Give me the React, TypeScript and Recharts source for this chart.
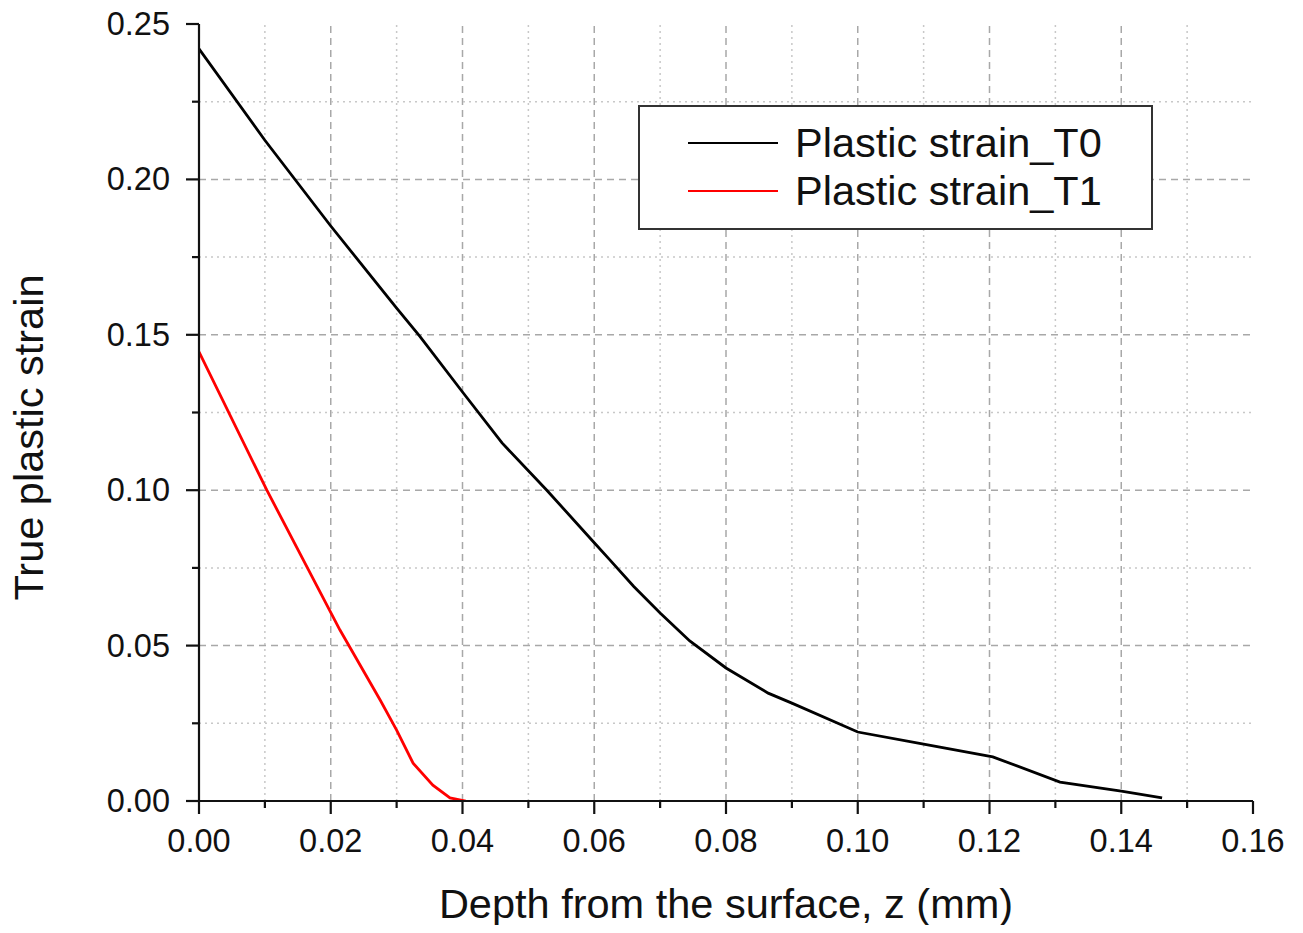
import { CartesianGrid, Label, Legend, Line, LineChart, ReferenceLine, XAxis, YAxis } from "recharts";

const FONT = '"Liberation Sans", Arial, sans-serif';

// Plastic strain_T0 (black)
const t0Depth = [0, 0.01, 0.02, 0.03, 0.0335, 0.04, 0.046, 0.0528, 0.06, 0.0624, 0.066, 0.07, 0.0745, 0.08, 0.0864, 0.09, 0.1, 0.11, 0.1205, 0.1307, 0.14, 0.1462];
const t0Strain = [0.242, 0.2126, 0.185, 0.1586, 0.1496, 0.1316, 0.1152, 0.1, 0.0831, 0.0775, 0.069, 0.0605, 0.0515, 0.0428, 0.0347, 0.0315, 0.0222, 0.0183, 0.0142, 0.0061, 0.0032, 0.001];

// Plastic strain_T1 (red)
const t1Depth = [0, 0.0103, 0.0214, 0.0275, 0.03, 0.0325, 0.0355, 0.0381, 0.0405];
const t1Strain = [0.1445, 0.1, 0.055, 0.0325, 0.0228, 0.0122, 0.0051, 0.001, 0];

const xTicks = [0, 0.01, 0.02, 0.03, 0.04, 0.05, 0.06, 0.07, 0.08, 0.09, 0.1, 0.11, 0.12, 0.13, 0.14, 0.15, 0.16];
const yTicks = [0, 0.025, 0.05, 0.075, 0.1, 0.125, 0.15, 0.175, 0.2, 0.225, 0.25];

const t0Data = t0Depth.map((x, i) => ({ x, y: t0Strain[i] }));
const t1Data = t1Depth.map((x, i) => ({ x, y: t1Strain[i] }));

const isMajorX = (v: number) => Math.round(v * 100) % 2 === 0;
const isMajorY = (v: number) => Math.round(v * 1000) % 50 === 0;

function XTick({ x, y, payload }: any) {
  const major = isMajorX(payload.value);
  return (
    <g>
      <line x1={x} x2={x} y1={y} y2={y + (major ? 13 : 7)} stroke="#111" strokeWidth={2.2} />
      {major && (
        <text x={x} y={y + 51} textAnchor="middle" fontSize={32.5} fontFamily={FONT} fill="#111">
          {payload.value.toFixed(2)}
        </text>
      )}
    </g>
  );
}

function YTick({ x, y, payload }: any) {
  const major = isMajorY(payload.value);
  return (
    <g>
      <line x1={x} x2={x - (major ? 13 : 7)} y1={y} y2={y} stroke="#111" strokeWidth={2.2} />
      {major && (
        <text x={x - 29} y={y + 11} textAnchor="end" fontSize={32.5} fontFamily={FONT} fill="#111">
          {payload.value.toFixed(2)}
        </text>
      )}
    </g>
  );
}

function LegendBox({ payload }: any) {
  return (
    <div
      style={{
        width: 515,
        height: 125,
        boxSizing: "border-box",
        border: "2px solid #333",
        background: "#fff",
        position: "relative",
        fontFamily: FONT,
      }}
    >
      {(payload || []).map((p: any, i: number) => (
        <div key={p.value} style={{ position: "absolute", left: 0, top: 36 + i * 48 - 25, height: 50, display: "flex", alignItems: "center" }}>
          <div style={{ marginLeft: 48, width: 90, height: 2.6, background: p.color }} />
          <span style={{ marginLeft: 17, fontSize: 41.5, color: "#111", lineHeight: "50px" }}>{p.value}</span>
        </div>
      ))}
    </div>
  );
}

export default function App() {
  return (
    <div style={{ margin: -8 }}>
      <LineChart width={1303} height={933} margin={{ top: 24, right: 50, left: 0, bottom: 0 }}>
        <CartesianGrid stroke="none" />
        {xTicks.slice(1, -1).map((v) => (
          <ReferenceLine
            key={"vx" + v}
            x={v}
            stroke={isMajorX(v) ? "#a8a8a8" : "#c8c8c8"}
            strokeWidth={1.5}
            strokeDasharray={isMajorX(v) ? "7 5" : "2 4"}
          />
        ))}
        {yTicks.slice(1, -1).map((v) => (
          <ReferenceLine
            key={"hy" + v}
            y={v}
            stroke={isMajorY(v) ? "#a8a8a8" : "#c8c8c8"}
            strokeWidth={1.5}
            strokeDasharray={isMajorY(v) ? "7 5" : "2 4"}
          />
        ))}
        <XAxis
          type="number"
          dataKey="x"
          domain={[0, 0.16]}
          ticks={xTicks}
          interval={0}
          tickSize={0}
          tickMargin={0}
          tickLine={false}
          tick={(p: any) => <XTick {...p} />}
          axisLine={{ stroke: "#111", strokeWidth: 2.2 }}
          height={132}
          allowDataOverflow
        >
          <Label
            content={({ viewBox }: any) => (
              <text
                x={viewBox.x + viewBox.width / 2}
                y={918}
                textAnchor="middle"
                fontSize={41.5}
                fontFamily={FONT}
                fill="#111"
              >
                Depth from the surface, z (mm)
              </text>
            )}
          />
        </XAxis>
        <XAxis
          xAxisId="top"
          orientation="top"
          type="number"
          domain={[0, 0.16]}
          height={0}
          tick={false}
          tickLine={false}
          axisLine={{ stroke: "#111", strokeWidth: 2.2 }}
        />
        <YAxis
          type="number"
          domain={[0, 0.25]}
          ticks={yTicks}
          interval={0}
          tickSize={0}
          tickMargin={0}
          tickLine={false}
          tick={(p: any) => <YTick {...p} />}
          axisLine={{ stroke: "#111", strokeWidth: 2.2 }}
          width={199}
          allowDataOverflow
        >
          <Label
            content={({ viewBox }: any) => {
              const cx = 43;
              const cy = viewBox.y + viewBox.height / 2 + 25;
              return (
                <text
                  x={cx}
                  y={cy}
                  transform={`rotate(-90 ${cx} ${cy})`}
                  textAnchor="middle"
                  fontSize={41.5}
                  fontFamily={FONT}
                  fill="#111"
                >
                  True plastic strain
                </text>
              );
            }}
          />
        </YAxis>
        <YAxis
          yAxisId="right"
          orientation="right"
          type="number"
          domain={[0, 0.25]}
          width={0}
          tick={false}
          tickLine={false}
          axisLine={{ stroke: "#111", strokeWidth: 2.2 }}
        />
        <Line
          data={t0Data}
          dataKey="y"
          name="Plastic strain_T0"
          stroke="#000000"
          strokeWidth={2.8}
          dot={false}
          activeDot={false}
          isAnimationActive={false}
        />
        <Line
          data={t1Data}
          dataKey="y"
          name="Plastic strain_T1"
          stroke="#ff0000"
          strokeWidth={2.8}
          dot={false}
          activeDot={false}
          isAnimationActive={false}
        />
        <Legend
          layout="horizontal"
          verticalAlign="middle"
          align="center"
          content={(p: any) => <LegendBox {...p} />}
          wrapperStyle={{ left: 638, top: 105, width: 515, height: 125 }}
        />
      </LineChart>
    </div>
  );
}
